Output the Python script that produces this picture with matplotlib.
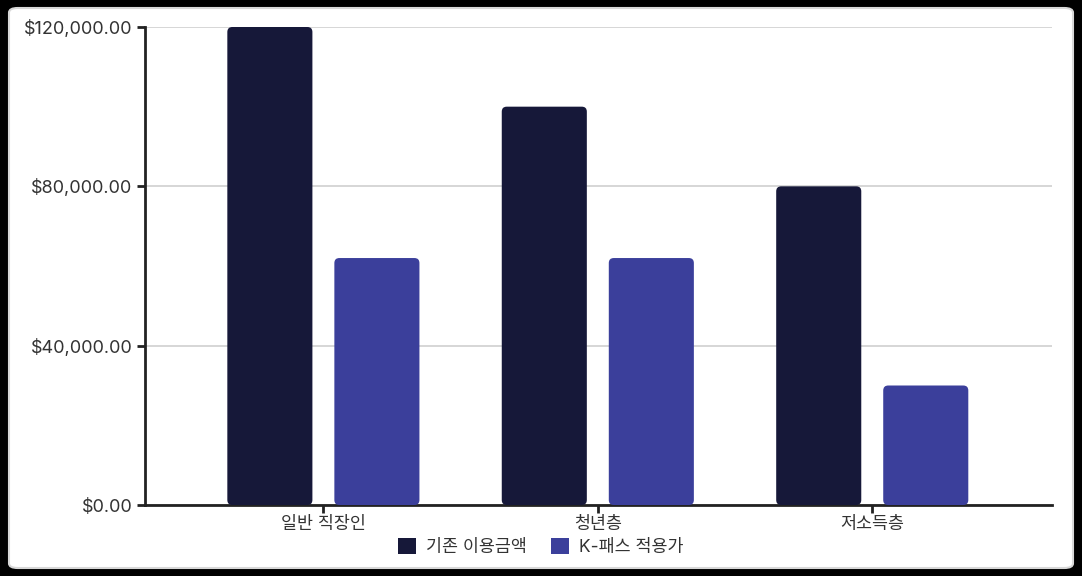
import numpy as np
import matplotlib.pyplot as plt
from matplotlib.patches import FancyBboxPatch
from matplotlib.ticker import FuncFormatter

plt.rcParams['font.family'] = ['Inter', 'Noto Sans CJK KR', 'DejaVu Sans']

categories = ['일반 직장인', '청년층', '저소득층']
series_names = ['기존 이용금액', 'K-패스 적용가']
base_cost = [120000, 100000, 80000]
kpass_cost = [62000, 62000, 30000]
colors = ['#161839', '#3b3f9b']

fig = plt.figure(figsize=(10.82, 5.76), dpi=100, facecolor='#000000')

# white card with rounded corners
card = FancyBboxPatch((9 / 1082, 8 / 576), 1064 / 1082, 560 / 576,
                      boxstyle="round,pad=0,rounding_size=0.008",
                      transform=fig.transFigure, facecolor='white',
                      edgecolor='#d8d8d8', linewidth=1.5, zorder=-5)
fig.patches.append(card)

ax = fig.add_axes([145 / 1082, 71 / 576, 907 / 1082, 478 / 576])
ax.set_facecolor('none')

x = np.arange(len(categories))
w = 0.31
off = 0.195
px_x = 1 / 274.0
px_y = 120000 / 478.0
for vals, c, o in [(base_cost, colors[0], -off), (kpass_cost, colors[1], off)]:
    for xi, v in zip(x, vals):
        p = FancyBboxPatch((xi + o - w / 2, 0), w, v,
                           boxstyle="round,pad=0,rounding_size=%f" % (5 * px_x),
                           mutation_aspect=px_y / px_x,
                           facecolor=c, edgecolor='none', zorder=3)
        ax.add_patch(p)

ax.set_xlim(-0.65, 2.655)
ax.set_ylim(0, 120000)
ax.set_yticks([0, 40000, 80000, 120000])
ax.yaxis.set_major_formatter(FuncFormatter(lambda v, _: '${:,.2f}'.format(v)))
ax.set_xticks(x)
ax.set_xticklabels(categories)
ax.grid(axis='y', color='#d0d0d0', linewidth=1.2, zorder=0)
ax.set_axisbelow(True)

for s in ['top', 'right']:
    ax.spines[s].set_visible(False)
for s in ['left', 'bottom']:
    ax.spines[s].set_color('#222222')
    ax.spines[s].set_linewidth(2)
ax.tick_params(axis='both', colors='#222222', width=2, length=6,
               labelsize=12.5, labelcolor='#333333', pad=2)
ax.tick_params(axis='y', labelsize=13, pad=3)

handles = [FancyBboxPatch((0, 0), 1, 1, boxstyle="round,pad=0,rounding_size=0.15",
                          facecolor=c, edgecolor='none') for c in colors]
fig.legend(handles, series_names, loc='center', bbox_to_anchor=(0.5, 0.05),
           ncol=2, frameon=False, fontsize=12.5, handlelength=1.0,
           handleheight=1.0, handletextpad=0.6, columnspacing=1.4,
           labelcolor='#333333')

fig.savefig('out.png', dpi=100, facecolor=fig.get_facecolor())
